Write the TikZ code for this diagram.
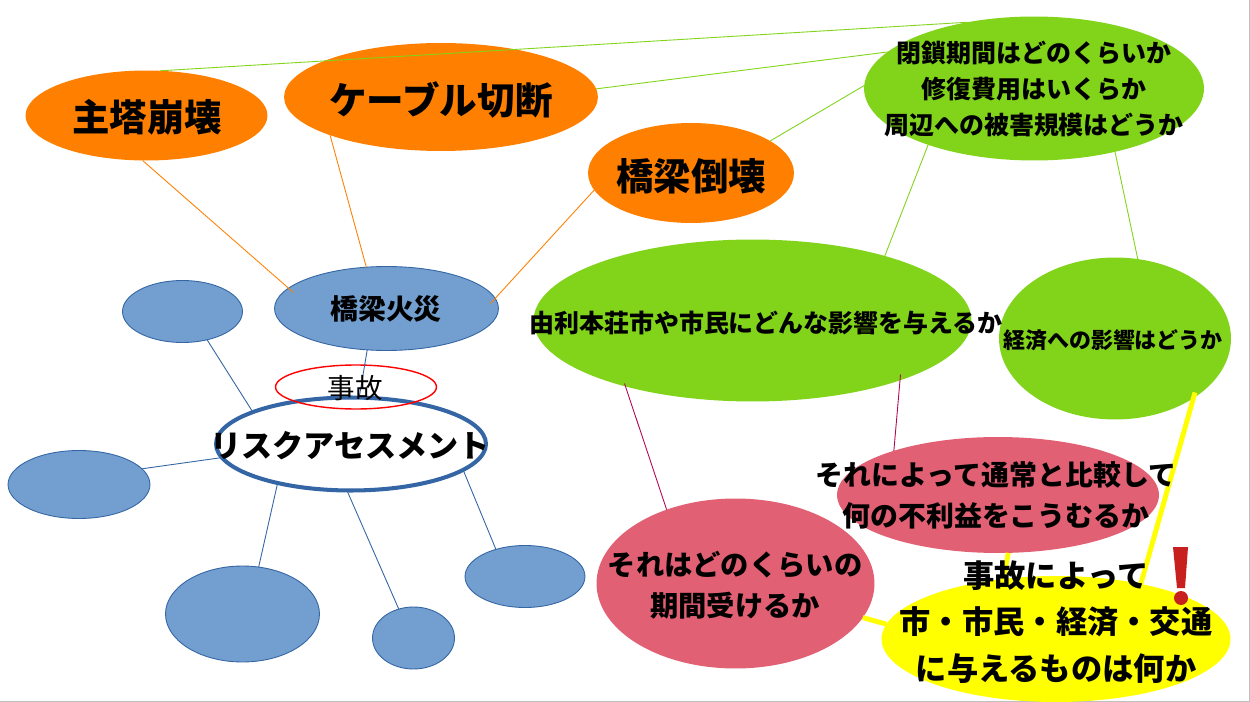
\documentclass[tikz,border=0pt]{standalone}
\usepackage{fontspec}
\setmainfont{Noto Sans CJK JP}
\usepackage{tikz}
\usetikzlibrary{shapes.geometric}
\definecolor{OvalOrange}{RGB}{255, 128, 0}
\definecolor{OvalGreen}{RGB}{129, 212, 26}
\definecolor{OvalBlue}{RGB}{114, 159, 207}
\definecolor{EdgeBlue}{RGB}{52, 101, 164}
\definecolor{OvalRose}{RGB}{226, 96, 115}
\definecolor{EdgeRose}{RGB}{176, 8, 80}
\definecolor{OvalYellow}{RGB}{255, 255, 0}
\definecolor{MarkRed}{RGB}{200, 32, 30}
\newcommand{\pxfont}[2]{\fontsize{#1}{#2}\selectfont}

\begin{document}
\begin{tikzpicture}[x=0.02cm, y=-0.02cm,
        oval/.style 2 args={ellipse, inner sep=0pt, outer sep=0pt, minimum width=#1*0.569pt, minimum height=#2*0.569pt},
        orangeoval/.style={fill=OvalOrange},
        greenoval/.style={fill=OvalGreen},
        blueoval/.style={fill=OvalBlue, draw=EdgeBlue, line width=0.5pt},
        roseoval/.style={fill=OvalRose},
        orangeline/.style={OvalOrange, line width=0.5pt},
        greenline/.style={OvalGreen, line width=0.5pt},
        blueline/.style={EdgeBlue, line width=0.5pt},
        roseline/.style={EdgeRose, line width=0.5pt},
        yellowline/.style={OvalYellow, line width=2.8pt},
        caption/.style={inner sep=0pt, align=center, font=\bfseries}
    ]
        \useasboundingbox (0, 0) rectangle (1250, 702);
        \fill[white] (0, 0) rectangle (1250, 702);
        \draw[black!25, line width=0.5pt] (1249.5, 0) -- (1249.5, 701.5) -- (0, 701.5);

        % Orange ovals
        \node[oval={242}{90}, orangeoval] (shutou) at (146.5, 115.5) {};
        \node[oval={314}{108}, orangeoval] (cable) at (441, 97) {};
        \node[oval={206}{100}, orangeoval] (kyoryo) at (691, 173) {};

        % Green ovals
        \node[oval={340}{144}, greenoval] (heisa) at (1034, 88.5) {};
        \node[oval={438}{162}, greenoval] (yuri) at (752.5, 320.5) {};
        \node[oval={232}{162}, greenoval] (keizai) at (1115, 338.5) {};

        % Blue ovals
        \node[oval={120}{62}, blueoval] (blueA) at (182.5, 311.5) {};
        \node[oval={142}{68}, blueoval] (blueB) at (79, 484.5) {};
        \node[oval={154}{96}, blueoval] (blueC) at (242.5, 614) {};
        \node[oval={82}{62}, blueoval] (blueD) at (413.5, 638) {};
        \node[oval={120}{62}, blueoval] (blueE) at (525, 576.5) {};
        \node[oval={224}{84}, blueoval] (kasai) at (386.5, 308.5) {};

        % Risk assessment and accident
        \node[oval={270}{93}, fill=white, draw=EdgeBlue, line width=2.3pt] (risk) at (351, 444) {};
        \node[oval={161}{44}, draw=red, line width=0.8pt] (jiko) at (356, 387) {};

        % Rose and yellow ovals
        \node[oval={322}{116}, roseoval] (hikaku) at (998, 495) {};
        \node[oval={278}{170}, roseoval] (kikan) at (735.5, 583.5) {};
        \node[oval={349}{126}, fill=OvalYellow] (atae) at (1056, 639) {};

        % Line ends that lie inside an oval
        \coordinate (kasaiL) at ([shift={(-93, -16)}]kasai);
        \coordinate (kasaiR) at ([shift={(104, -5)}]kasai);
        \coordinate (yuriL) at ([shift={(-128, 63)}]yuri);
        \coordinate (yuriR) at ([shift={(148, 54)}]yuri);
        \coordinate (keizaiR) at ([shift={(80, 54)}]keizai);

        % Orange lines
        \draw[orangeline] (shutou.265) -- (kasaiL);
        \draw[orangeline] (cable.199) -- (kasai.116);
        \draw[orangeline] (kyoryo.190) -- (kasaiR);

        % Green lines
        \draw[greenline] (shutou.73) -- (heisa.135);
        \draw[greenline] (cable.3) -- (heisa.166);
        \draw[greenline] (kyoryo.22) -- (heisa.179);
        \draw[greenline] (heisa.208) -- (yuri.26);
        \draw[greenline] (heisa.322) -- (keizai.74);

        % Blue lines
        \draw[blueline] (blueA.311) -- (risk.162);
        \draw[blueline] (blueB.14) -- (risk.186);
        \draw[blueline] (risk.208) -- (blueC.71);
        \draw[blueline] (risk.265) -- (blueD.117);
        \draw[blueline] (risk.347) -- (blueE.137);
        \draw[blueline] (kasai.245) -- (risk.80);

        % Rose and yellow lines
        \draw[roseline] (yuriL) -- (kikan.133);
        \draw[roseline] (yuriR) -- (hikaku.157);
        \draw[yellowline] (keizaiR) -- (atae.33);
        \draw[yellowline] (hikaku.280) -- (atae.131);
        \draw[yellowline] (kikan.345) -- (atae.175);

        % Texts
        \node[caption, font=\bfseries\pxfont{21.3}{25}] (shutoutxt) at (147, 117) {主塔崩壊};
        \node[caption, font=\bfseries\pxfont{21.4}{25}] (cabletxt) at (441, 100) {ケーブル切断};
        \node[caption, font=\bfseries\pxfont{21.3}{25}] (kyoryotxt) at (691, 176) {橋梁倒壊};
        \node[caption, font=\bfseries\pxfont{14.2}{20.5}] (heisatxt) at (1034, 89) {閉鎖期間はどのくらいか\\修復費用はいくらか\\周辺への被害規模はどうか};
        \node[caption, font=\bfseries\pxfont{14.2}{18}] (yuritxt) at (766, 323) {由利本荘市や市民にどんな影響を与えるか};
        \node[caption, font=\bfseries\pxfont{12.5}{16}] (keizaitxt) at (1113, 340) {経済への影響はどうか};
        \node[caption, font=\bfseries\pxfont{15.9}{20}] (kasaitxt) at (386, 309) {橋梁火災};
        \node[inner sep=0pt, font=\pxfont{15.65}{20}] (jikotxt) at (355, 388) {事故};
        \node[caption, font=\bfseries\pxfont{17.7}{22}] (risktxt) at (350, 446) {リスクアセスメント};
        \node[caption, font=\bfseries\pxfont{15.9}{23.3}] (hikakutxt) at (996, 495) {それによって通常と比較して\\何の不利益をこうむるか};
        \node[caption, font=\bfseries\pxfont{16.1}{23.3}] (kikantxt) at (735, 585) {それはどのくらいの\\期間受けるか};
        \node[caption, font=\bfseries\pxfont{17.8}{26.5}] (ataetxt) at (1056, 622) {事故によって\\市・市民・経済・交通\\に与えるものは何か};

        % Exclamation mark
        \fill[MarkRed] (1173, 547) -- (1188, 547) -- (1185, 588) -- (1177, 588) -- cycle;
        \fill[MarkRed] (1181, 598) circle[radius=7];
    \end{tikzpicture}
\end{document}
